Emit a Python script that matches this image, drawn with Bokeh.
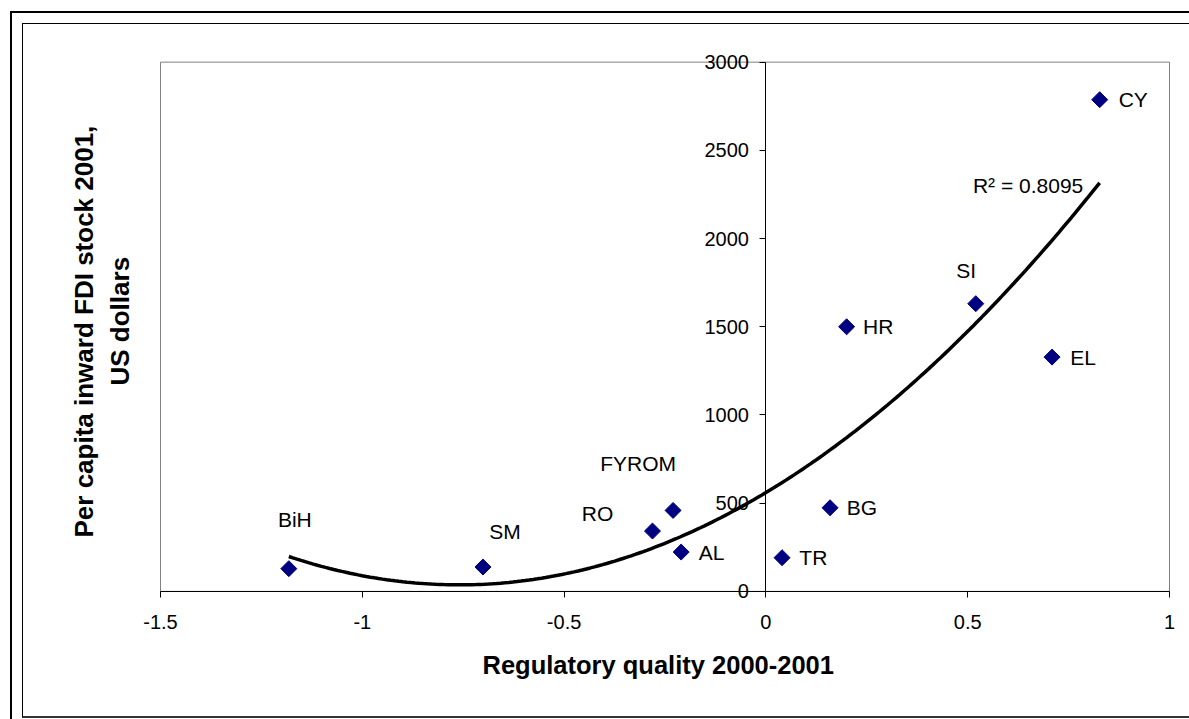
import numpy as np
from bokeh.plotting import figure
from bokeh.models import (ColumnDataSource, FixedTicker, CustomJSTickFormatter,
                          Label, Range1d, Title)
from bokeh.embed import file_html
from bokeh.resources import INLINE
from bokeh.core.properties import value

# ---------------- data ----------------
countries = ["BiH", "SM", "RO", "FYROM", "AL", "TR", "BG", "HR", "SI", "EL", "CY"]
reg_quality = [-1.182, -0.701, -0.281, -0.230, -0.210, 0.040, 0.159, 0.200, 0.520, 0.709, 0.827]
fdi_per_capita = [129, 138, 342, 459, 223, 191, 474, 1500, 1631, 1328, 2787]
x_ticks = [-1.5, -1, -0.5, 0, 0.5, 1]
y_ticks = [0, 500, 1000, 1500, 2000, 2500, 3000]
r2_text = "R\u00b2 = 0.8095"
x_title = "Regulatory quality 2000-2001"
y_title_lines = ["Per capita inward FDI stock 2001,", "US dollars"]

# ---------------- label placement (style, pixels) ----------------
right_labels = ["CY", "HR", "EL", "BG", "TR", "AL"]
right_dx = [19, 16.5, 18.3, 16.7, 17.3, 17.6]
other_labels = ["SI", "FYROM", "RO", "BiH", "SM"]
other_dx = [-9.5, -35, -55, 6, 22]
other_dy = [-33, -47, -18, -49, -36]

FONT = "Liberation Sans"
NAVY = "#000080"

x_lo, x_hi = x_ticks[0], x_ticks[-1]
y_lo, y_hi = y_ticks[0], y_ticks[-1]
PX_PER_X = 403.7  # pixels per x unit in the original

W, H = 1189, 719
p = figure(width=W, height=H, output_backend="svg", toolbar_location=None,
           x_range=Range1d(x_lo - 25 / PX_PER_X, x_hi + 8 / PX_PER_X),
           y_range=Range1d(y_lo - 250, y_hi + 100),
           min_border_left=135, min_border_right=12, min_border_top=44,
           min_border_bottom=84)
p.background_fill_color = "white"
p.border_fill_color = "white"
p.outline_line_color = None
p.xgrid.visible = False
p.ygrid.visible = False

# chart-area borders (drawn with CSS on the plot element)
p.stylesheets = ["""
:host { position: relative; }
:host::before { content: ""; position: absolute; left: 10px; top: 11px;
  width: 1179px; height: 708px; border-left: 2px solid #000; border-top: 2px solid #000;
  box-sizing: border-box; pointer-events: none; z-index: 20; }
:host::after { content: ""; position: absolute; left: 22px; top: 23px;
  width: 1167px; height: 695px; border-left: 1px solid #000; border-top: 1px solid #000;
  border-bottom: 2px solid #333; box-sizing: border-box; pointer-events: none; z-index: 20; }
"""]

# plot-area border (grey), from the axis limits
p.quad(left=[x_lo], right=[x_hi], bottom=[y_lo], top=[y_hi],
       fill_color=None, line_color="#808080", line_width=1)

# x axis at y = 0
xa = p.xaxis[0]
xa.fixed_location = 0
xa.bounds = (x_lo, x_hi)
xa.ticker = FixedTicker(ticks=x_ticks)
xa.formatter = CustomJSTickFormatter(code="return tick.toString()")
xa.major_tick_out = 6
xa.major_tick_in = 0
xa.minor_tick_out = 0
xa.minor_tick_in = 0
xa.axis_line_color = "black"
xa.major_tick_line_color = "black"
xa.major_label_text_font = FONT
xa.major_label_text_font_size = "20px"
xa.major_label_text_color = "black"
xa.major_label_standoff = 18

# x title
p.add_layout(Title(text=x_title, align="left", offset=347, vertical_align="top",
                   standoff=30, text_font=FONT, text_font_size="25.5px",
                   text_font_style="bold", text_color="black"), "below")

# y axis crossing at x = 0
ya = p.yaxis[0]
ya.fixed_location = 0
ya.bounds = (y_lo, y_hi)
ya.ticker = FixedTicker(ticks=y_ticks)
ya.major_tick_out = 6
ya.major_tick_in = 0
ya.minor_tick_out = 0
ya.minor_tick_in = 0
ya.axis_line_color = "black"
ya.major_tick_line_color = "black"
ya.major_label_text_font = FONT
ya.major_label_text_font_size = "20px"
ya.major_label_text_color = "black"
ya.major_label_standoff = 11

# y title, two lines
p.add_layout(Title(text=y_title_lines[1], align="left", offset=250,
                   vertical_align="bottom", standoff=2, text_font=FONT,
                   text_font_size="26px", text_font_style="bold",
                   text_color="black"), "left")
p.add_layout(Title(text=y_title_lines[0], align="left", offset=98,
                   vertical_align="bottom", standoff=5, text_font=FONT,
                   text_font_size="26px", text_font_style="bold",
                   text_color="black"), "left")

# polynomial (order 2) trendline, as Excel fits it
coef = np.polyfit(reg_quality, fdi_per_capita, 2)
tx = np.linspace(min(reg_quality), max(reg_quality), 200)
ty = np.polyval(coef, tx)

src = ColumnDataSource(dict(x=reg_quality, y=fdi_per_capita, name=countries))
p.scatter("x", "y", source=src, marker="square", size=11.3, angle=np.pi / 4,
          fill_color=NAVY, line_color=NAVY)
p.line(tx, ty, line_color="black", line_width=3.5)

lookup = dict(zip(countries, zip(reg_quality, fdi_per_capita)))
rsrc = ColumnDataSource(dict(x=[lookup[c][0] for c in right_labels],
                             y=[lookup[c][1] for c in right_labels],
                             t=right_labels, dx=right_dx))
p.text("x", "y", text="t", source=rsrc, x_offset="dx", text_align="left",
       text_baseline="middle", text_font=value(FONT), text_font_size="21px",
       text_color="black")
osrc = ColumnDataSource(dict(x=[lookup[c][0] for c in other_labels],
                             y=[lookup[c][1] for c in other_labels],
                             t=other_labels, dx=other_dx, dy=other_dy))
p.text("x", "y", text="t", source=osrc, x_offset="dx", y_offset="dy",
       text_align="center", text_baseline="middle", text_font=value(FONT),
       text_font_size="21px", text_color="black")

p.add_layout(Label(x=0.513, y=2300, text=r2_text, text_font=FONT,
                   text_font_size="21px", text_color="black",
                   text_align="left", text_baseline="middle"))

open("out.html", "w").write(file_html(p, INLINE))
